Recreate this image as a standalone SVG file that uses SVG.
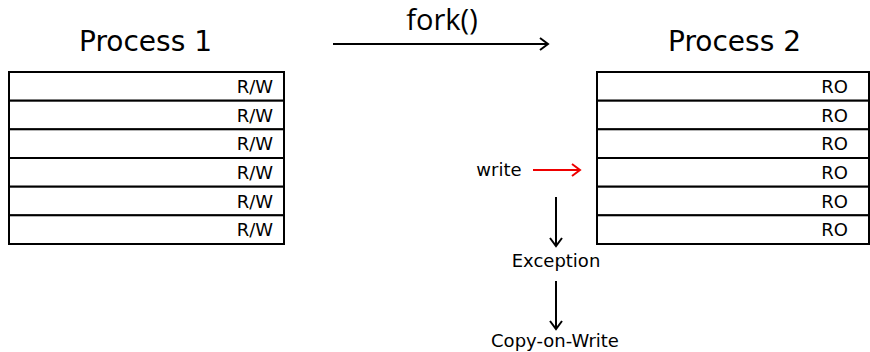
<svg xmlns="http://www.w3.org/2000/svg" width="870" height="352" viewBox="0 0 870 352">
<style>
.t{font-family:"DejaVu Sans","Liberation Sans",sans-serif;fill:#000}
.title{font-size:28px;text-anchor:middle}
.cell{fill:#fff;stroke:#000;stroke-width:2}
.lbl{font-size:18px;text-anchor:end}
.small{font-size:18px;text-anchor:middle}
.ln{stroke:#000;stroke-width:2;fill:none}
</style>
<defs>
<marker id="ah" markerWidth="12" markerHeight="14" refX="10" refY="7" orient="auto" markerUnits="userSpaceOnUse">
<polyline points="2,1 10,7 2,13" fill="none" stroke="#000" stroke-width="2"/>
</marker>
<marker id="ahr" markerWidth="12" markerHeight="14" refX="10" refY="7" orient="auto" markerUnits="userSpaceOnUse">
<polyline points="2,1 10,7 2,13" fill="none" stroke="#e00" stroke-width="2"/>
</marker>
</defs>
<rect width="870" height="352" fill="#fff"/>
<g id="process1">
<text class="t title" x="145.5" y="51">Process 1</text>
<rect class="cell" x="9" y="72" width="275" height="28.7"/>
<rect class="cell" x="9" y="100.7" width="275" height="28.7"/>
<rect class="cell" x="9" y="129.3" width="275" height="28.7"/>
<rect class="cell" x="9" y="158" width="275" height="28.7"/>
<rect class="cell" x="9" y="186.7" width="275" height="28.7"/>
<rect class="cell" x="9" y="215.3" width="275" height="28.7"/>
<text class="t lbl" x="273" y="93">R/W</text>
<text class="t lbl" x="273" y="121.7">R/W</text>
<text class="t lbl" x="273" y="150.3">R/W</text>
<text class="t lbl" x="273" y="179">R/W</text>
<text class="t lbl" x="273" y="207.7">R/W</text>
<text class="t lbl" x="273" y="236.3">R/W</text>
</g>
<g id="process2">
<text class="t title" x="734.5" y="51">Process 2</text>
<rect class="cell" x="597" y="72" width="272" height="28.7"/>
<rect class="cell" x="597" y="100.7" width="272" height="28.7"/>
<rect class="cell" x="597" y="129.3" width="272" height="28.7"/>
<rect class="cell" x="597" y="158" width="272" height="28.7"/>
<rect class="cell" x="597" y="186.7" width="272" height="28.7"/>
<rect class="cell" x="597" y="215.3" width="272" height="28.7"/>
<text class="t lbl" x="848" y="93">RO</text>
<text class="t lbl" x="848" y="121.7">RO</text>
<text class="t lbl" x="848" y="150.3">RO</text>
<text class="t lbl" x="848" y="179">RO</text>
<text class="t lbl" x="848" y="207.7">RO</text>
<text class="t lbl" x="848" y="236.3">RO</text>
</g>
<g id="write"><text class="t small" x="499" y="176">write</text></g>
<g id="exception"><text class="t small" x="556" y="267">Exception</text></g>
<g id="cow"><text class="t small" x="555" y="347">Copy-on-Write</text></g>
<g id="fork"><text x="442" y="30" font-family="'Open Sans','Noto Sans',sans-serif" font-size="29" text-anchor="middle">fork()</text></g>
<g id="connectors">
<line class="ln" x1="333" y1="44" x2="548" y2="44" marker-end="url(#ah)"/>
<line x1="533" y1="170" x2="580" y2="170" stroke="#e00" stroke-width="2" marker-end="url(#ahr)"/>
<line class="ln" x1="556" y1="197" x2="556" y2="246" marker-end="url(#ah)"/>
<line class="ln" x1="556" y1="281" x2="556" y2="329" marker-end="url(#ah)"/>
</g>
</svg>
